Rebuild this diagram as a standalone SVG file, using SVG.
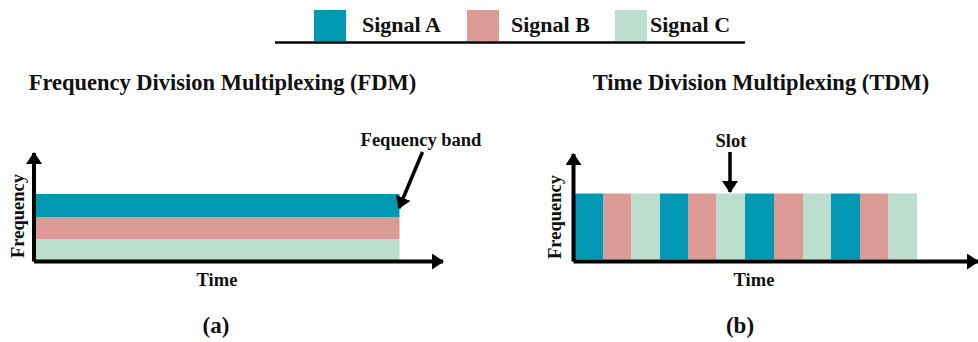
<svg xmlns="http://www.w3.org/2000/svg" width="978" height="342" viewBox="0 0 978 342">
  <style>
    .t { font-family: "Liberation Serif", "Times New Roman", serif; font-weight: bold; fill: #111; }
    .leg { font-size: 22px; }
    .title { font-size: 22.5px; text-anchor: middle; }
    .lab { font-size: 18.5px; text-anchor: middle; }
    .cap { font-size: 23px; text-anchor: middle; }
    .a { fill: #0098B3; }
    .b { fill: #DC9A96; }
    .c { fill: #BCDECE; }
    .axis { stroke: #000; stroke-width: 4; fill: none; }
    .ptr { stroke: #000; stroke-width: 3.5; fill: none; }
  </style>
  <defs>
    <marker id="head" viewBox="0 0 12 16" refX="11" refY="8" markerWidth="12" markerHeight="16" markerUnits="userSpaceOnUse" orient="auto">
      <path d="M0,0 L12,8 L0,16 Z" fill="#000"/>
    </marker>
  </defs>

  <!-- legend -->
  <g id="legend">
    <rect class="a" x="314" y="10" width="32" height="31"/>
    <text class="t leg" x="362" y="32">Signal A</text>
    <rect class="b" x="467" y="10" width="32" height="31"/>
    <text class="t leg" x="511" y="32">Signal B</text>
    <rect class="c" x="615" y="10" width="32" height="31"/>
    <text class="t leg" x="650" y="32">Signal C</text>
    <line x1="275" y1="42.5" x2="745" y2="42.5" stroke="#000" stroke-width="2.5"/>
  </g>

  <!-- (a) frequency division -->
  <g id="fdm">
    <text class="t title" x="222.5" y="90">Frequency Division Multiplexing (FDM)</text>
    <rect class="a" x="35.5" y="194" width="364" height="23"/>
    <rect class="b" x="35.5" y="217" width="364" height="22"/>
    <rect class="c" x="35.5" y="239" width="364" height="22"/>
    <text class="t lab" x="421" y="146">Fequency band</text>
    <text class="t lab" transform="translate(24,216) rotate(-90)">Frequency</text>
    <text class="t lab" x="217" y="286">Time</text>
    <text class="t cap" x="216" y="333">(a)</text>
  </g>

  <!-- (b) time division -->
  <g id="tdm">
    <text class="t title" x="761" y="90">Time Division Multiplexing (TDM)</text>
    <rect class="a" x="575" y="193.5" width="28.5" height="66"/>
    <rect class="b" x="603.5" y="193.5" width="28" height="66"/>
    <rect class="c" x="631.5" y="193.5" width="28.5" height="66"/>
    <rect class="a" x="660" y="193.5" width="28" height="66"/>
    <rect class="b" x="688" y="193.5" width="28.5" height="66"/>
    <rect class="c" x="716.5" y="193.5" width="28.5" height="66"/>
    <rect class="a" x="745" y="193.5" width="29" height="66"/>
    <rect class="b" x="774" y="193.5" width="29" height="66"/>
    <rect class="c" x="803" y="193.5" width="28" height="66"/>
    <rect class="a" x="831" y="193.5" width="29" height="66"/>
    <rect class="b" x="860" y="193.5" width="28.5" height="66"/>
    <rect class="c" x="888.5" y="193.5" width="28.5" height="66"/>
    <text class="t lab" x="731" y="147">Slot</text>
    <text class="t lab" transform="translate(561,217) rotate(-90)">Frequency</text>
    <text class="t lab" x="754" y="286">Time</text>
    <text class="t cap" x="740" y="333">(b)</text>
  </g>

  <!-- axes and pointers -->
  <g id="connectors">
    <path class="axis" d="M34,261.5 L34,153" marker-end="url(#head)"/>
    <path class="axis" d="M34,261.5 L443,261.5" marker-end="url(#head)"/>
    <path class="axis" d="M573.5,261.5 L573.5,154" marker-end="url(#head)"/>
    <path class="axis" d="M573.5,261.5 L978,261.5" marker-end="url(#head)"/>
    <path class="ptr" d="M422.5,152 L399,208" marker-end="url(#head)"/>
    <path class="ptr" d="M730,152 L730,192" marker-end="url(#head)"/>
  </g>
</svg>
